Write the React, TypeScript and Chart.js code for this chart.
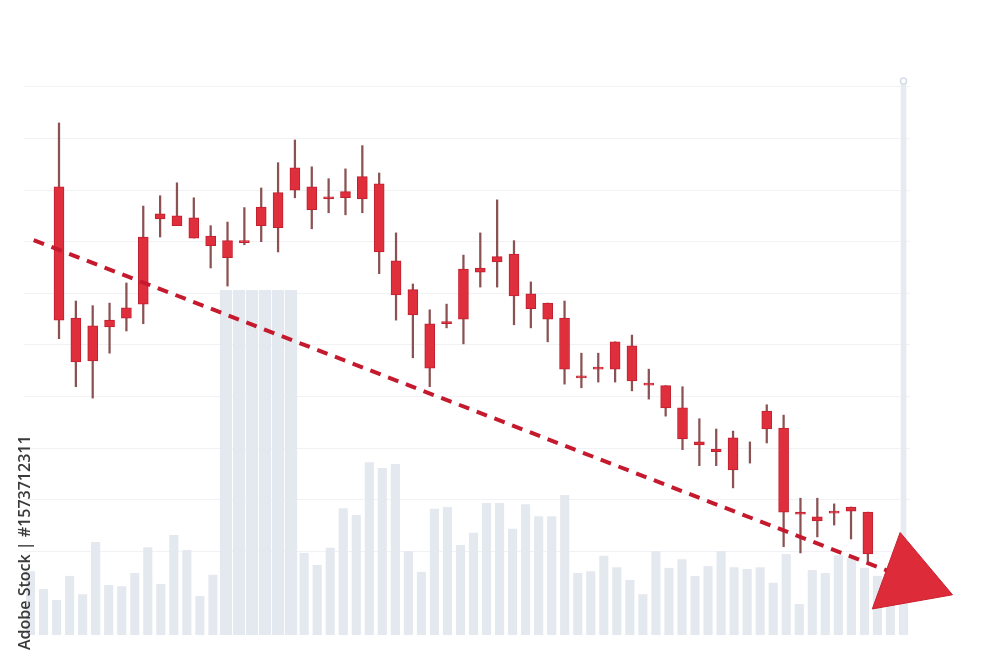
import React, { useEffect, useRef } from 'react';
import { Chart, registerables } from 'chart.js';

Chart.register(...registerables);

// Candles (price units; all sessions bearish-coloured in the picture)
const candleOpen = [80.6, 55.2, 53.7, 54.8, 57.2, 70.9, 75.4, 75.0, 74.6, 71.1, 70.2, 70.2, 76.7, 79.5, 84.3, 80.6, 78.7, 79.7, 82.6, 81.2, 66.3, 60.7, 54.1, 54.5, 64.7, 64.9, 67.1, 67.6, 59.9, 58.1, 55.2, 44.0, 45.7, 50.6, 49.8, 42.6, 42.1, 37.8, 31.2, 29.8, 32.0, 29.2, 37.2, 33.9, 17.6, 16.7, 17.8, 18.6, 17.6];
const candleHigh = [93.0, 58.5, 57.6, 58.1, 62.0, 76.9, 78.9, 81.4, 78.5, 73.1, 73.8, 76.6, 80.4, 85.3, 89.7, 84.5, 82.2, 84.1, 88.6, 83.3, 71.7, 61.8, 56.8, 57.9, 67.4, 71.7, 78.1, 70.2, 62.2, 58.1, 58.5, 48.4, 48.4, 50.6, 51.9, 45.3, 42.1, 41.9, 35.7, 33.7, 33.3, 31.2, 38.4, 36.4, 20.3, 20.3, 19.2, 18.6, 17.6];
const candleLow = [51.2, 41.9, 39.7, 48.4, 52.7, 54.1, 70.9, 73.1, 70.7, 64.9, 61.4, 69.4, 70.0, 68.0, 78.5, 72.5, 75.6, 75.2, 75.6, 63.8, 54.8, 47.5, 41.9, 53.3, 50.2, 61.2, 61.2, 53.9, 53.3, 50.6, 42.4, 41.7, 42.8, 42.8, 41.1, 39.5, 36.2, 29.7, 26.6, 26.6, 22.3, 27.1, 31.0, 10.9, 9.7, 12.8, 15.1, 12.4, 7.8];
const candleClose = [54.8, 46.7, 46.9, 53.5, 55.2, 57.9, 74.4, 73.1, 70.7, 69.2, 66.9, 69.8, 73.1, 72.7, 80.0, 76.2, 78.3, 78.5, 78.3, 68.0, 59.7, 55.8, 45.5, 54.1, 55.0, 64.1, 66.1, 59.5, 57.0, 55.0, 45.3, 43.6, 45.3, 45.3, 43.0, 42.2, 37.8, 31.8, 30.6, 29.3, 25.8, 29.2, 33.7, 17.6, 17.2, 15.9, 17.4, 17.8, 9.5];

// Volume bars (separate, denser index)
const volume = [11.1, 8.0, 6.1, 10.3, 7.1, 16.2, 8.7, 8.5, 10.8, 15.3, 8.9, 17.4, 14.8, 6.8, 10.5, 60.1, 60.1, 60.1, 60.1, 60.1, 60.1, 14.3, 12.2, 15.2, 22.1, 20.9, 30.1, 29.1, 29.8, 14.6, 11.0, 22.0, 22.3, 15.7, 17.8, 23.0, 23.0, 18.5, 22.8, 20.7, 20.7, 24.4, 10.8, 11.1, 13.8, 11.8, 9.6, 7.1, 14.6, 11.7, 13.2, 10.3, 12.0, 14.6, 11.8, 11.5, 11.8, 9.1, 14.1, 5.4, 11.3, 10.8, 13.9, 13.4, 11.7, 10.3, 11.0, 9.0];
const spikeLevel = 40;
const cursorLevel = 96.5;

// Dashed trend line (candle index, price)
const trendX = [-1.5, 50.4];
const trendY = [70.3, 4.7];

// Price grid
const priceMin = -6.2;
const priceMax = 105;
const priceStep = 10;

const BODY = '#df2e3c';
const BODY_EDGE = '#c21f2e';
const WICK = '#8a5252';
const VOL = '#e4e8ef';

export default function App() {
  const ref = useRef<HTMLCanvasElement | null>(null);

  useEffect(() => {
    if (!ref.current) return;
    const volLabels = volume.map((_, i) => String(i + 1));
    const last = volume.length - 1;

    const chart = new Chart(ref.current, {
      type: 'bar',
      data: {
        labels: volLabels,
        datasets: [
          {
            type: 'line',
            label: 'trend',
            xAxisID: 'xc',
            yAxisID: 'y',
            data: trendX.map((x, i) => ({ x, y: trendY[i] })),
            borderColor: '#c51a2e',
            borderWidth: 4,
            borderDash: [11, 8],
            pointRadius: [0, 47],
            pointStyle: 'triangle',
            pointRotation: [0, 110],
            pointBackgroundColor: '#de2b39',
            pointBorderColor: '#c8202f',
            pointBorderWidth: 1,
            clip: false,
            order: 0,
          } as any,
          {
            label: 'body',
            xAxisID: 'xc',
            yAxisID: 'y',
            data: candleOpen.map((o, i) => ({ x: i, y: [candleClose[i], o] })),
            backgroundColor: BODY,
            borderColor: BODY_EDGE,
            borderWidth: 1,
            borderSkipped: false,
            barThickness: 10,
            grouped: false,
            order: 1,
          } as any,
          {
            label: 'wick',
            xAxisID: 'xc',
            yAxisID: 'y',
            data: candleOpen.map((_, i) => ({ x: i, y: [candleLow[i], candleHigh[i]] })),
            backgroundColor: WICK,
            borderWidth: 0,
            barThickness: 1.6,
            grouped: false,
            order: 2,
          } as any,
          {
            label: 'volume',
            xAxisID: 'xv',
            yAxisID: 'yv',
            data: volume.map((v) => (v > spikeLevel ? null : v)),
            backgroundColor: VOL,
            borderWidth: 0,
            categoryPercentage: 1,
            barPercentage: 0.7,
            grouped: false,
            skipNull: true,
            order: 6,
          } as any,
          {
            label: 'volume spike',
            xAxisID: 'xv',
            yAxisID: 'yv',
            data: volume.map((v) => (v > spikeLevel ? v : null)),
            backgroundColor: VOL,
            borderWidth: 0,
            categoryPercentage: 1,
            barPercentage: 0.93,
            grouped: false,
            skipNull: true,
            order: 6,
          } as any,
          {
            label: 'cursor',
            xAxisID: 'xv',
            yAxisID: 'yv',
            data: volume.map((_, i) => (i === last ? cursorLevel : null)),
            backgroundColor: '#e6ebf2',
            borderWidth: 0,
            barThickness: 5,
            grouped: false,
            skipNull: true,
            order: 5,
          } as any,
          {
            type: 'line',
            label: 'cursor head',
            xAxisID: 'xv',
            yAxisID: 'yv',
            data: volume.map((_, i) => (i === last ? cursorLevel : null)),
            showLine: false,
            pointRadius: 3,
            pointBackgroundColor: '#ffffff',
            pointBorderColor: '#d6dce6',
            pointBorderWidth: 1.5,
            order: 4,
          } as any,
        ],
      },
      options: {
        animation: false,
        responsive: false,
        devicePixelRatio: 1,
        layout: { autoPadding: false, padding: { left: 24, right: 90, top: 61, bottom: 32 } },
        plugins: { legend: { display: false }, tooltip: { enabled: false } },
        scales: {
          xc: {
            type: 'linear',
            position: 'bottom',
            min: -2.077,
            max: 50.5,
            offset: false,
            display: false,
          },
          xv: {
            type: 'category',
            position: 'bottom',
            offset: true,
            display: false,
          },
          y: {
            type: 'linear',
            position: 'left',
            min: priceMin,
            max: priceMax,
            ticks: { display: false, stepSize: priceStep },
            border: { display: false },
            grid: {
              drawTicks: false,
              lineWidth: 1,
              color: (ctx: any) => {
                const v = ctx.tick ? ctx.tick.value : NaN;
                const ok = v >= 10 && v <= 100 && Math.abs(v / priceStep - Math.round(v / priceStep)) < 1e-6;
                return ok ? '#f0f2f5' : 'rgba(0,0,0,0)';
              },
            },
          },
          yv: {
            type: 'linear',
            position: 'right',
            min: 0,
            max: 100,
            display: false,
          },
        },
      } as any,
    });
    return () => chart.destroy();
  }, []);

  return (
    <div
      style={{
        position: 'fixed',
        left: 0,
        top: 0,
        width: 1000,
        height: 667,
        background: '#ffffff',
        overflow: 'hidden',
      }}
    >
      <canvas ref={ref} width={1000} height={667} style={{ display: 'block', width: 1000, height: 667 }} />
      <div
        style={{
          position: 'absolute',
          left: 14,
          top: 430,
          height: 220,
          width: 20,
          writingMode: 'vertical-rl',
          transform: 'rotate(180deg)',
          fontFamily: '"Open Sans", sans-serif',
          fontWeight: 600,
          fontSize: 16,
          lineHeight: '20px',
          color: '#3a3a3a',
          whiteSpace: 'nowrap',
        }}
      >
        Adobe Stock | #1573712311
      </div>
    </div>
  );
}
